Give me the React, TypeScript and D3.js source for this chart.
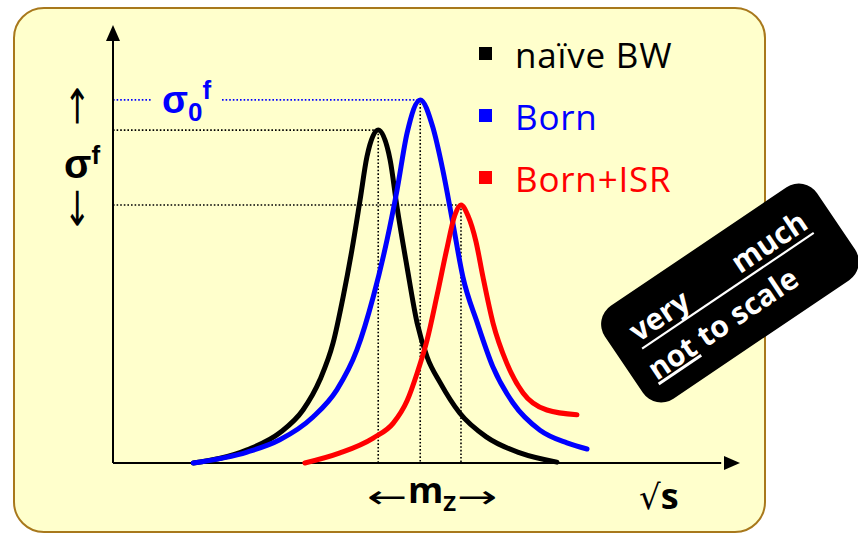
import React from "react";
import * as d3 from "d3";

// ---- data (arbitrary units: sqrt(s) 0..100, sigma 0..100) ----
const naiveBW: [number, number][] = [
  [12.8, 0], [21.4, 3.0], [26.6, 6.9], [30.3, 12.1], [33.0, 19.0], [35.1, 27.4],
  [36.7, 37.9], [38.1, 48.6], [39.4, 60.0], [40.5, 69.9], [42.3, 76.0], [44.2, 69.2],
  [45.3, 58.4], [46.9, 44.7], [48.5, 32.0], [50.1, 24.2], [52.2, 18.3], [55.3, 11.4],
  [59.6, 5.9], [64.9, 2.3], [70.8, 0.2],
];
const born: [number, number][] = [
  [12.8, 0], [21.4, 2.5], [26.6, 5.3], [31.9, 10.5], [35.7, 16.7], [38.9, 25.8],
  [41.5, 37.9], [43.7, 50.9], [45.3, 62.3], [46.9, 75.3], [49.0, 82.9], [51.0, 76.7],
  [52.6, 66.9], [54.2, 54.8], [55.8, 42.5], [58.1, 32.0], [60.6, 21.9], [63.8, 13.7],
  [68.1, 7.5], [72.4, 4.6], [75.6, 3.2],
];
const bornISR: [number, number][] = [
  [30.6, 0], [36.2, 2.3], [41.5, 5.7], [44.7, 9.1], [46.9, 14.2], [48.5, 20.5],
  [50.1, 28.1], [51.7, 38.4], [53.2, 48.6], [54.5, 56.5], [55.5, 58.9], [56.6, 56.5],
  [57.9, 50.5], [59.0, 42.5], [60.6, 32.0], [62.8, 22.8], [65.4, 16.0], [69.2, 12.1],
  [74.0, 11.0],
];
const seriesNames = ["naïve BW", "Born", "Born+ISR"];
const seriesColors = ["#000000", "#0000FF", "#FF0000"];
const seriesData = [naiveBW, born, bornISR];

const W = 858;
const H = 535;

export default function App() {
  const x = d3.scaleLinear().domain([0, 100]).range([113, 740]);
  const y = d3.scaleLinear().domain([0, 100]).range([463, 25]);
  const line = d3
    .line<[number, number]>()
    .x((d) => x(d[0]))
    .y((d) => y(d[1]))
    .curve(d3.curveMonotoneX);

  const peaks = seriesData.map((s) => s.reduce((a, b) => (b[1] > a[1] ? b : a)));
  const [pBW, pBorn, pISR] = peaks;
  const x0 = x(0);
  const yBase = y(0);
  const dot = { stroke: "#000", strokeWidth: 1.6, strokeDasharray: "1.6,2" };
  const bdot = { stroke: "#0000FF", strokeWidth: 1.6, strokeDasharray: "1.6,2" };
  const badgeFont = { fontFamily: "Open Sans", fontWeight: "bold" as const, fontSize: 30, fill: "#fff" };
  const arrowFont = { fontFamily: "DejaVu Sans", fontSize: 32, fill: "#000", textAnchor: "middle" as const };

  return (
    <svg
      width={W}
      height={H}
      style={{ position: "fixed", left: 0, top: 0 }}
      xmlns="http://www.w3.org/2000/svg"
    >
      <rect x={0} y={0} width={W} height={H} fill="#ffffff" />
      <rect x={14} y={8} width={751} height={524} rx={30} ry={30} fill="#FFFFCC" stroke="#A8781C" strokeWidth={2} />

      {/* dotted guides */}
      <line x1={x0} x2={152} y1={y(pBorn[1])} y2={y(pBorn[1])} {...bdot} />
      <line x1={222} x2={x(pBorn[0])} y1={y(pBorn[1])} y2={y(pBorn[1])} {...bdot} />
      <line x1={x0} x2={x(pBW[0])} y1={y(pBW[1])} y2={y(pBW[1])} {...dot} />
      <line x1={x0} x2={x(pISR[0])} y1={y(pISR[1])} y2={y(pISR[1])} {...dot} />
      {peaks.map((p, i) => (
        <line key={i} x1={x(p[0])} x2={x(p[0])} y1={y(p[1])} y2={yBase} {...dot} />
      ))}

      {/* axes */}
      <line x1={x0} x2={x0} y1={yBase} y2={y(97)} stroke="#000" strokeWidth={2} />
      <path d={`M${x0},${y(100)} L${x0 - 7},${y(100) + 16} L${x0 + 7},${y(100) + 16} Z`} fill="#000" />
      <line x1={x0} x2={x(97)} y1={yBase} y2={yBase} stroke="#000" strokeWidth={2} />
      <path d={`M${x(100)},${yBase} L${x(100) - 16},${yBase - 7} L${x(100) - 16},${yBase + 7} Z`} fill="#000" />

      {/* curves */}
      {seriesData.map((s, i) => (
        <path key={i} d={line(s) || ""} fill="none" stroke={seriesColors[i]} strokeWidth={5} strokeLinecap="round" strokeLinejoin="round" />
      ))}

      {/* legend */}
      {seriesNames.map((n, i) => (
        <g key={n}>
          <rect x={479} y={47 + i * 62} width={13} height={13} fill={seriesColors[i]} />
          <text x={515} y={68 + i * 62} fontFamily="Open Sans" fontSize={35} letterSpacing={0.8} fill={seriesColors[i]}>
            {n}
          </text>
        </g>
      ))}

      {/* sigma_0^f label */}
      <text x={162} y={113} fill="#0000FF" fontFamily="Liberation Sans" fontWeight="bold" fontSize={38}>
        σ<tspan fontSize={26} dy={8}>0</tspan>
        <tspan fontSize={26} dy={-22}>f</tspan>
      </text>

      {/* y label: ↑ σ^f ↓ (vertical arrows drawn as stretched arrows turned upright) */}
      <text transform="translate(78,106) rotate(90) scale(1.5,1)" dominantBaseline="central" {...arrowFont}>←</text>
      <text x={64} y={178} fontFamily="Liberation Sans" fontWeight="bold" fontSize={40} fill="#000">
        σ<tspan fontSize={26} dy={-14}>f</tspan>
      </text>
      <text transform="translate(78,208) rotate(90) scale(1.5,1)" dominantBaseline="central" {...arrowFont}>→</text>

      {/* x labels */}
      <text transform="translate(387,497) scale(1.5,1)" dominantBaseline="central" {...arrowFont}>←</text>
      <text x={408} y={503} fontFamily="Open Sans" fontWeight="bold" fontSize={36} fill="#000">
        m<tspan fontSize={22} dy={8}>Z</tspan>
      </text>
      <text transform="translate(477,497) scale(1.5,1)" dominantBaseline="central" {...arrowFont}>→</text>
      <text x={639} y={509} fontFamily="Open Sans" fontSize={36} fill="#000">
        <tspan fontFamily="DejaVu Sans" fontSize={34}>√</tspan>
        <tspan fontWeight="bold">s</tspan>
      </text>

      {/* badge */}
      <g transform="translate(730,293) rotate(-34)">
        <rect x={-128} y={-56} width={256} height={112} rx={22} ry={22} fill="#000" />
        <text x={-104} y={-10} {...badgeFont}>very</text>
        <text x={103} y={-10} textAnchor="end" {...badgeFont}>much</text>
        <line x1={-104} x2={103} y1={-3} y2={-3} stroke="#fff" strokeWidth={2.2} />
        <text x={-110} y={32} {...badgeFont}>
          <tspan textDecoration="underline">not</tspan> to scale
        </text>
      </g>
    </svg>
  );
}
